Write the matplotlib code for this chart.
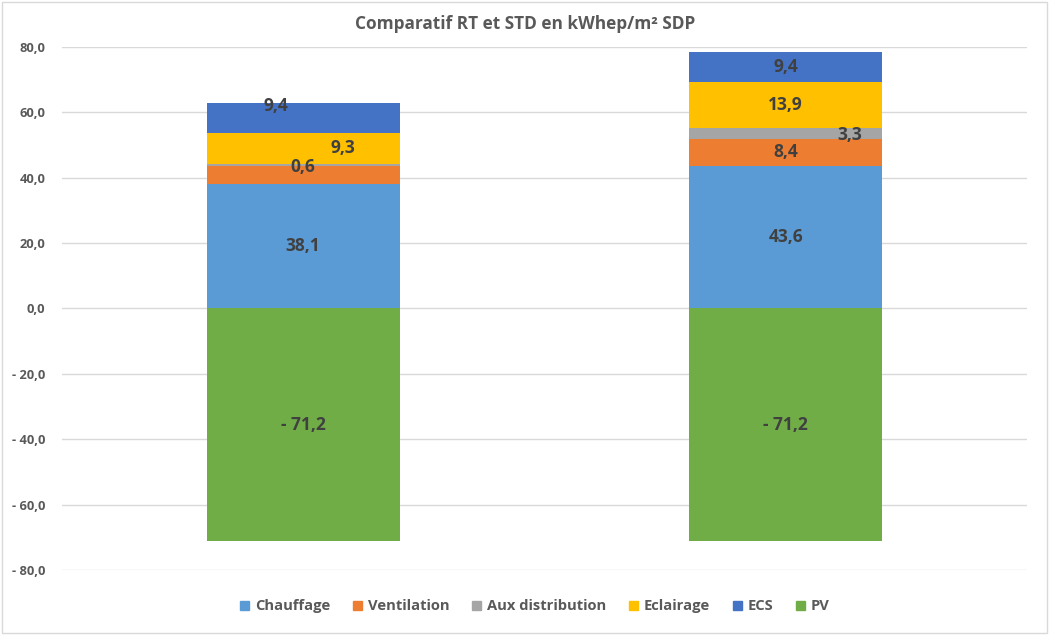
"""Stacked bars: RT vs STD energy breakdown in kWhep/m² SDP."""
import matplotlib.pyplot as plt
import matplotlib.patches as mpatches
import numpy as np

plt.rcParams["font.family"] = ["Open Sans", "DejaVu Sans"]

scenarios = ["RT", "STD"]
series = ["Chauffage", "Ventilation", "Aux distribution", "Eclairage", "ECS", "PV"]
chauffage = [38.1, 43.6]
ventilation = [5.6, 8.4]
aux_distribution = [0.6, 3.3]
eclairage = [9.3, 13.9]
ecs = [9.4, 9.4]
pv = [-71.2, -71.2]

colors = ["#5B9BD5", "#ED7D31", "#A5A5A5", "#FFC000", "#4472C4", "#70AD47"]
values = [chauffage, ventilation, aux_distribution, eclairage, ecs, pv]

# which segment labels are shown, and nudges (dx in category units, dy in data units)
hidden_labels = {("Ventilation", 0)}
label_nudge = {
    ("ECS", 0): (-0.057, 3.7),
    ("Eclairage", 0): (0.082, 0.0),
    ("Aux distribution", 0): (0.0, -0.7),
    ("Aux distribution", 1): (0.133, -0.5),
}


def fr(v):
    s = f"{abs(v):.1f}".replace(".", ",")
    return f"- {s}" if v < 0 else s


fig = plt.figure(figsize=(10.51, 6.35), dpi=100)
ax = fig.add_axes([0.059, 0.1024, 0.918, 0.8236])

x = np.arange(len(scenarios))
width = 0.4
pos_bottom = np.zeros(len(scenarios))
neg_bottom = np.zeros(len(scenarios))
for name, vals, col in zip(series, values, colors):
    vals = np.array(vals)
    bottom = np.where(vals >= 0, pos_bottom, neg_bottom)
    ax.bar(x, vals, width, bottom=bottom, color=col, zorder=3)
    for i, v in enumerate(vals):
        if (name, i) in hidden_labels:
            continue
        dx, dy = label_nudge.get((name, i), (0, 0))
        ax.text(x[i] + dx, bottom[i] + v / 2 + dy, fr(v), ha="center", va="center",
                fontsize=12.5, fontweight="bold", color="#404040", zorder=4)
    pos_bottom += np.where(vals >= 0, vals, 0)
    neg_bottom += np.where(vals < 0, vals, 0)

ax.set_xlim(-0.5, 1.5)
ax.set_ylim(-80, 80)
ticks = np.arange(-80, 81, 20)
ax.set_yticks(ticks)
ax.set_yticklabels([fr(t) for t in ticks], fontsize=9.3, fontweight="bold", color="#595959")
ax.set_xticks([])
ax.tick_params(axis="y", length=0, pad=12)
ax.grid(axis="y", color="#D9D9D9", linewidth=1, zorder=0)
for s in ax.spines.values():
    s.set_visible(False)

fig.text(0.5, 0.962, "Comparatif RT et STD en kWhep/m² SDP", ha="center", va="center",
         fontsize=12.4, fontweight="bold", color="#595959")

handles = [mpatches.Patch(color=c, label=n) for n, c in zip(series, colors)]
fig.legend(handles=handles, loc="center", bbox_to_anchor=(0.509, 0.045), ncol=6,
           frameon=False, handlelength=0.6, handleheight=0.6, handletextpad=0.4,
           columnspacing=1.55, prop={"size": 10.6, "weight": "bold"}, labelcolor="#595959")

fig.patches.append(mpatches.Rectangle((0.002, 0.003), 0.994, 0.994, transform=fig.transFigure,
                                      fill=False, edgecolor="#D9D9D9", linewidth=1))

fig.savefig("out.png", dpi=100)
